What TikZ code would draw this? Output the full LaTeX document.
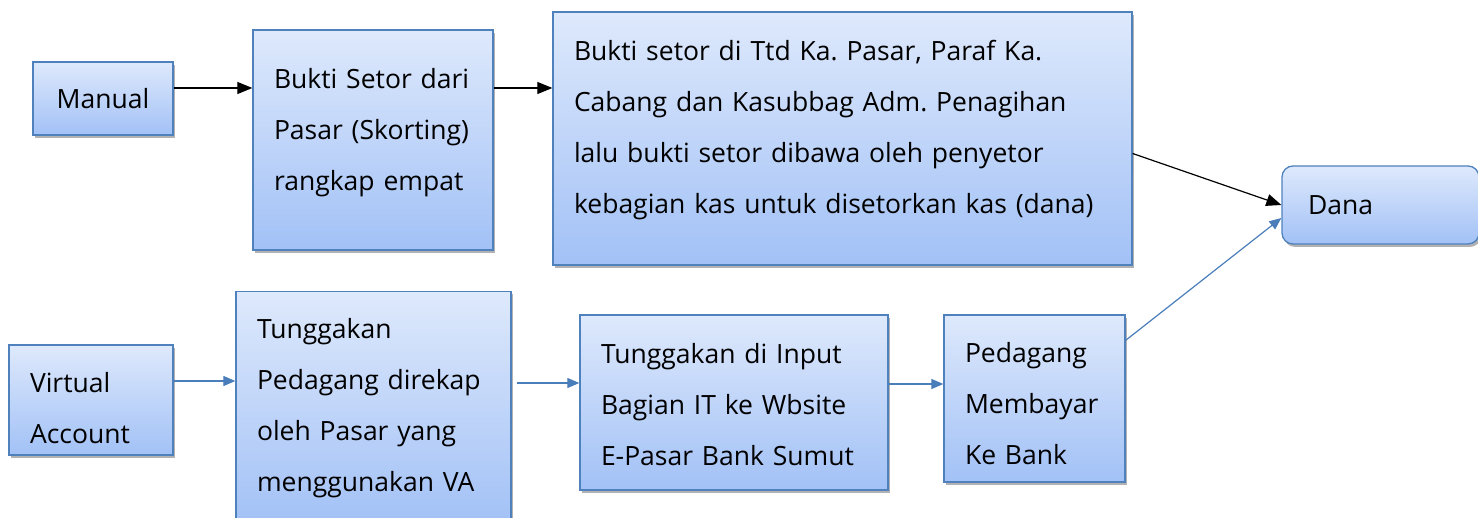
\documentclass[tikz,border=0pt]{standalone}
\usepackage{fontspec}
\setmainfont{Open Sans}
\usetikzlibrary{arrows.meta,shadows}
\definecolor{kotakatas}{RGB}{222,233,252}
\definecolor{kotakbawah}{RGB}{162,193,246}
\definecolor{garis}{RGB}{79,129,189}
\definecolor{panah}{RGB}{74,126,187}
\frenchspacing

\begin{document}
\begin{tikzpicture}[x=1pt,y=-1pt,
    kotak/.style={draw=garis, line width=1.3pt, top color=kotakatas, bottom color=kotakbawah,
      drop shadow={shadow xshift=2pt, shadow yshift=-3pt, opacity=0.3, fill=black},
      align=left, inner xsep=21pt, inner ysep=0pt, font=\fontsize{26.5}{51}\selectfont},
    geser/.style={execute at end node={\endgraf\vspace*{#1}}},
    hitam/.style={line width=1.2pt, -{Triangle[length=15pt,width=12pt]}},
    biru/.style={draw=panah, line width=1.2pt, -{Triangle[length=12pt,width=10pt]}}]
  \useasboundingbox (0,0) rectangle (1478,518);

  % jalur manual
  \node[kotak, minimum width=140pt, minimum height=73pt] (manual) at (103,98.5) {Manual};
  \node[kotak, geser=15pt, minimum width=240pt, minimum height=220pt, text width=198pt] (bukti) at (373,140)
    {Bukti Setor dari\\Pasar (Skorting)\\rangkap empat};
  \node[kotak, geser=16pt, minimum width=579pt, minimum height=253pt, text width=537pt] (setor) at (842.5,138.5)
    {Bukti setor di Ttd Ka. Pasar, Paraf Ka.\\Cabang dan Kasubbag Adm. Penagihan\\lalu bukti setor dibawa oleh penyetor\\kebagian kas untuk disetorkan kas (dana)};
  \node[kotak, geser=-15pt, rounded corners=11pt, inner xsep=26pt, minimum width=197pt, minimum height=78pt, text width=145pt] (dana) at (1380.5,205) {Dana};

  % jalur virtual account
  \node[kotak, geser=-16pt, minimum width=164pt, minimum height=110pt, text width=122pt] (va) at (91,400)
    {Virtual\\Account};
  \node[kotak, minimum width=275pt, minimum height=233pt, text width=233pt] (tunggak) at (373.5,408)
    {Tunggakan\\Pedagang direkap\\oleh Pasar yang\\menggunakan VA};
  \node[kotak, geser=-4pt, minimum width=308pt, minimum height=175pt, text width=266pt] (input) at (734,402.5)
    {Tunggakan di Input\\Bagian IT ke Wbsite\\E-Pasar Bank Sumut};
  \node[kotak, geser=-10pt, minimum width=181pt, minimum height=167pt, text width=139pt] (bayar) at (1034.5,398.5)
    {Pedagang\\Membayar\\Ke Bank};

  \draw[hitam] (manual.east |- 0,88) -- (bukti.west |- 0,88);
  \draw[hitam] (bukti.east |- 0,88) -- (setor.west |- 0,88);
  \draw[hitam] ([yshift=-15pt]setor.east) -- (dana.west);

  \draw[biru] (va.east |- 0,381) -- (tunggak.west |- 0,381);
  \draw[biru] ([xshift=5pt]tunggak.east |- 0,383) -- (input.west |- 0,383);
  \draw[biru] (input.east |- 0,384) -- (bayar.west |- 0,384);
  \draw[biru] ([yshift=-26pt]bayar.north east) -- ([yshift=-13pt]dana.west);
\end{tikzpicture}
\end{document}
